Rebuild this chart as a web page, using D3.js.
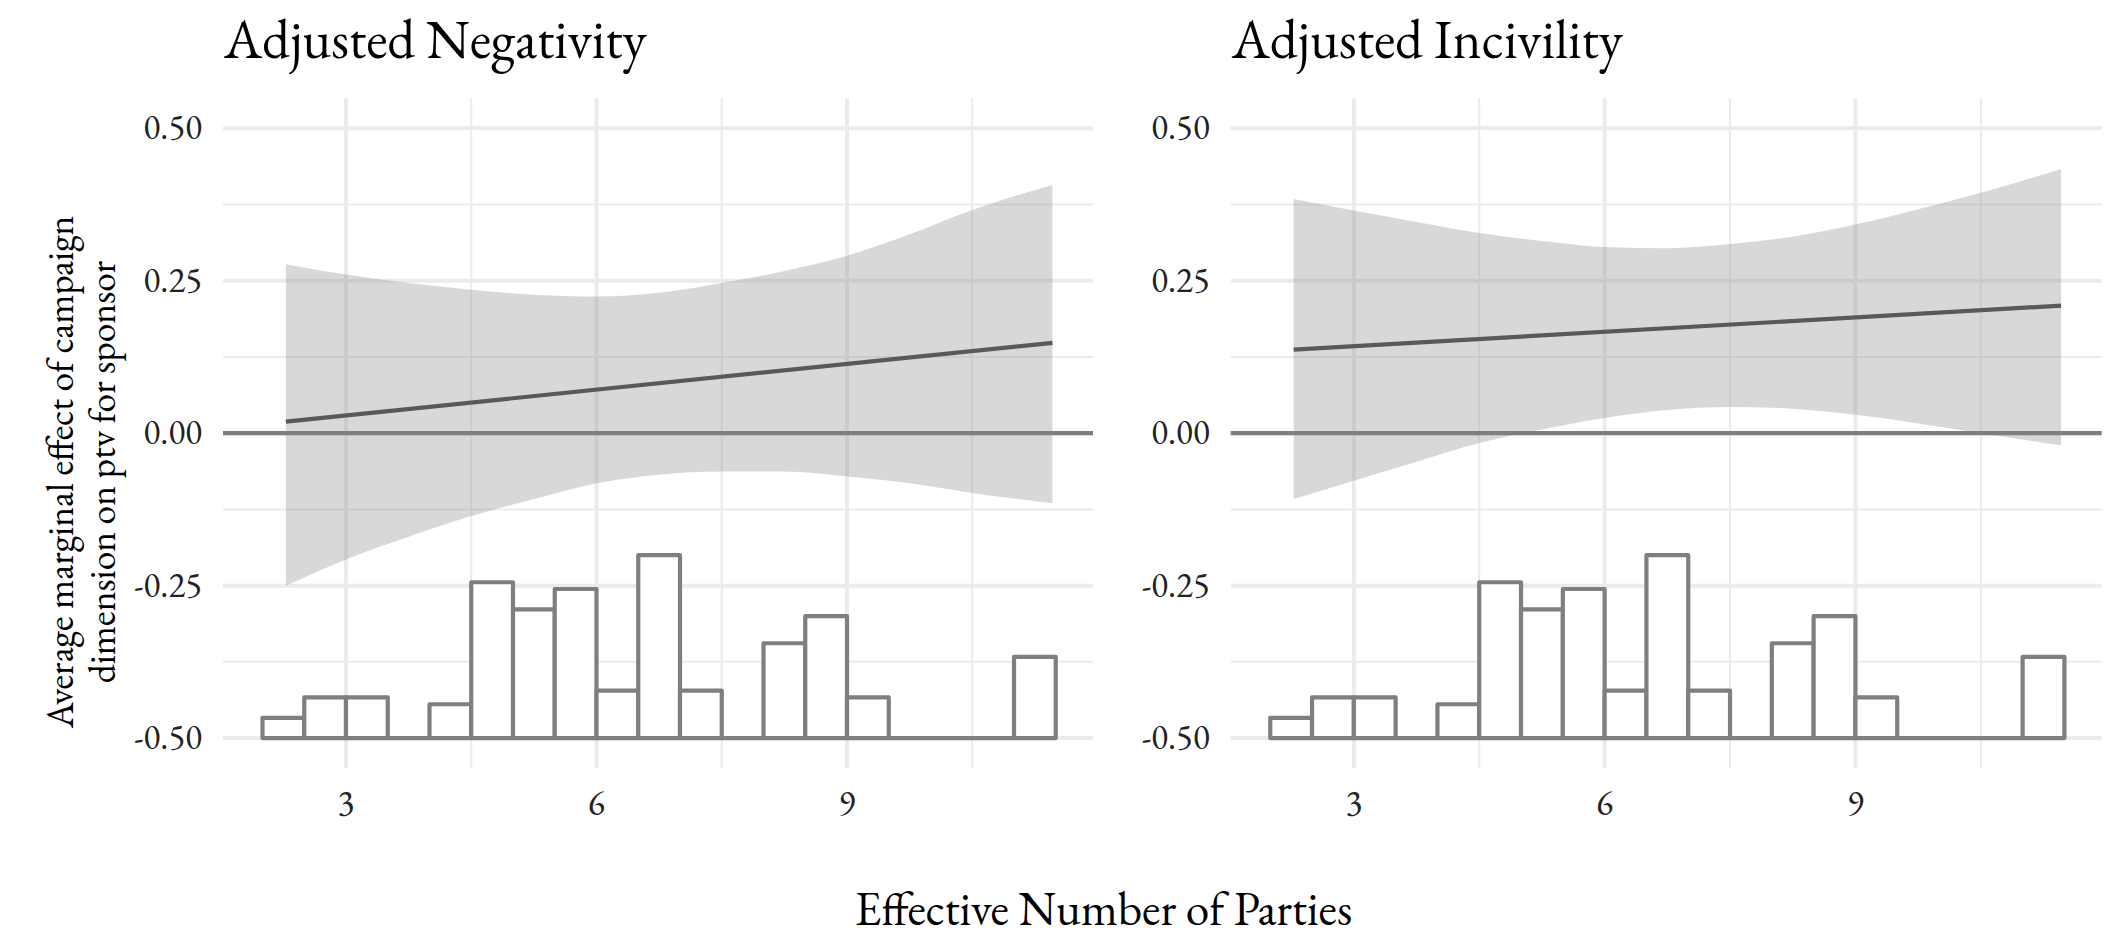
<!DOCTYPE html>
<html>
<head>
<meta charset="utf-8">
<script src="https://cdn.jsdelivr.net/npm/d3@7"></script>
<style>
  html, body { margin: 0; padding: 0; background: #fff; }
  svg { display: block; }
  text { font-family: "EB Garamond", "Liberation Serif", "DejaVu Serif", serif; }
</style>
</head>
<body>
<svg id="chart" width="2125" height="944"></svg>
<script>
// ---------------- DATA ----------------
const panelTitles = ["Adjusted Negativity", "Adjusted Incivility"];
const xTickValues = [3, 6, 9];
const xTickLabels = ["3", "6", "9"];
const xMinorValues = [4.5, 7.5, 10.5];
const yTickValues = [0.5, 0.25, 0, -0.25, -0.5];
const yTickLabels = ["0.50", "0.25", "0.00", "-0.25", "-0.50"];
const yMinorValues = [0.375, 0.125, -0.125, -0.375];

// x positions at which the confidence band was read
const bandX = [2.28, 3.0, 3.75, 4.5, 5.25, 6.0, 6.75, 7.5, 8.25, 9.0, 9.75, 10.5, 11.46];
// Adjusted Negativity band
const negUpper = [0.277, 0.260, 0.246, 0.235, 0.227, 0.224, 0.230, 0.246, 0.266, 0.291, 0.326, 0.366, 0.407];
const negLower = [-0.250, -0.207, -0.170, -0.136, -0.108, -0.082, -0.068, -0.063, -0.063, -0.071, -0.082, -0.098, -0.115];
// Adjusted Incivility band
const incUpper = [0.384, 0.365, 0.346, 0.328, 0.315, 0.305, 0.303, 0.310, 0.322, 0.342, 0.367, 0.394, 0.433];
const incLower = [-0.108, -0.078, -0.047, -0.016, 0.006, 0.025, 0.038, 0.043, 0.040, 0.030, 0.016, 0.000, -0.020];

// marginal-effect lines (straight), endpoints
const lineX = [2.28, 11.46];
const negLine = [0.019, 0.148];
const incLine = [0.137, 0.209];

// histogram of Effective Number of Parties (bins of width 0.5 from 2.0)
const binStarts = [2.0, 2.5, 3.0, 3.5, 4.0, 4.5, 5.0, 5.5, 6.0, 6.5, 7.0, 7.5, 8.0, 8.5, 9.0, 9.5, 10.0, 10.5, 11.0];
const binCounts = [3, 6, 6, 0, 5, 23, 19, 22, 7, 27, 7, 0, 14, 18, 6, 0, 0, 0, 12];
const binWidth = 0.5;

const xTitle = "Effective Number of Parties";
const yTitleLines = ["Average marginal effect of campaign", "dimension on ptv for sponsor"];

// ---------------- LAYOUT ----------------
const svg = d3.select("#chart");
svg.append("rect").attr("width", 2125).attr("height", 944).attr("fill", "#fff");

const panelTop = 98.3, panelBottom = 768;
const panels = [
  { left: 223, right: 1093, title: panelTitles[0], upper: negUpper, lower: negLower, line: negLine },
  { left: 1230.7, right: 2101.7, title: panelTitles[1], upper: incUpper, lower: incLower, line: incLine }
];

const y = d3.scaleLinear().domain([-0.549, 0.549]).range([panelBottom, panelTop]);
// histogram heights mapped into the data space of the y-axis
const countToY = d3.scaleLinear().domain([0, d3.max(binCounts)]).range([-0.5, -0.2]);

const strokeW = 4.2;

panels.forEach(p => {
  const x = d3.scaleLinear().domain([1.527, 11.946]).range([p.left, p.right]);
  const g = svg.append("g");

  // minor grid
  g.selectAll(".ymin").data(yMinorValues).join("line")
    .attr("x1", p.left).attr("x2", p.right)
    .attr("y1", d => y(d)).attr("y2", d => y(d))
    .attr("stroke", "#ebebeb").attr("stroke-width", 2);
  g.selectAll(".xmin").data(xMinorValues).join("line")
    .attr("y1", panelTop).attr("y2", panelBottom)
    .attr("x1", d => x(d)).attr("x2", d => x(d))
    .attr("stroke", "#ebebeb").attr("stroke-width", 2);
  // major grid
  g.selectAll(".ymaj").data(yTickValues).join("line")
    .attr("x1", p.left).attr("x2", p.right)
    .attr("y1", d => y(d)).attr("y2", d => y(d))
    .attr("stroke", "#ebebeb").attr("stroke-width", 4);
  g.selectAll(".xmaj").data(xTickValues).join("line")
    .attr("y1", panelTop).attr("y2", panelBottom)
    .attr("x1", d => x(d)).attr("x2", d => x(d))
    .attr("stroke", "#ebebeb").attr("stroke-width", 4);

  // ribbon
  const bandData = bandX.map((bx, i) => ({ x: bx, lo: p.lower[i], hi: p.upper[i] }));
  const area = d3.area().x(d => x(d.x)).y0(d => y(d.lo)).y1(d => y(d.hi)).curve(d3.curveMonotoneX);
  g.append("path").datum(bandData).attr("d", area)
    .attr("fill", "#999999").attr("fill-opacity", 0.38);

  // zero line
  g.append("line").attr("x1", p.left).attr("x2", p.right)
    .attr("y1", y(0)).attr("y2", y(0))
    .attr("stroke", "#7f7f7f").attr("stroke-width", strokeW);

  // ME line
  const lineData = lineX.map((lx, i) => ({ x: lx, v: p.line[i] }));
  g.append("path").datum(lineData)
    .attr("d", d3.line().x(d => x(d.x)).y(d => y(d.v)))
    .attr("fill", "none").attr("stroke", "#595959").attr("stroke-width", strokeW);

  // histogram (each bin drawn as a closed outline; empty bins become a baseline segment)
  const bars = binStarts.map((b, i) => ({ b, c: binCounts[i] }));
  g.selectAll(".bar").data(bars).join("path")
    .attr("d", d => {
      const x0 = x(d.b), x1 = x(d.b + binWidth);
      const y0 = y(-0.5), y1 = y(countToY(d.c));
      return `M${x0},${y0}L${x0},${y1}L${x1},${y1}L${x1},${y0}Z`;
    })
    .attr("fill", "#fff").attr("stroke", "#7f7f7f").attr("stroke-width", strokeW)
    .attr("stroke-linejoin", "round").attr("stroke-linecap", "round");

  // y tick labels
  g.selectAll(".ylab").data(yTickValues).join("text")
    .attr("x", p.left - 21).attr("y", d => y(d) + 11)
    .attr("text-anchor", "end").attr("font-size", 35).attr("fill", "#222")
    .text((d, i) => yTickLabels[i]);
  // x tick labels
  g.selectAll(".xlab").data(xTickValues).join("text")
    .attr("x", d => x(d)).attr("y", 815)
    .attr("text-anchor", "middle").attr("font-size", 35).attr("fill", "#222")
    .text((d, i) => xTickLabels[i]);

  // panel title
  g.append("text").attr("x", p.left + 1).attr("y", 58)
    .attr("font-size", 55).attr("fill", "#000").text(p.title);
});

// x axis title
svg.append("text").attr("x", 1103.5).attr("y", 925)
  .attr("text-anchor", "middle").attr("font-size", 47.3).attr("fill", "#000")
  .text(xTitle);

// y axis title
const yt = svg.append("text").attr("transform", "translate(0,472) rotate(-90)")
  .attr("text-anchor", "middle").attr("font-size", 37.5).attr("fill", "#000");
yt.append("tspan").attr("x", 0).attr("y", 73).text(yTitleLines[0]);
yt.append("tspan").attr("x", 0).attr("y", 115).text(yTitleLines[1]);
</script>
</body>
</html>
